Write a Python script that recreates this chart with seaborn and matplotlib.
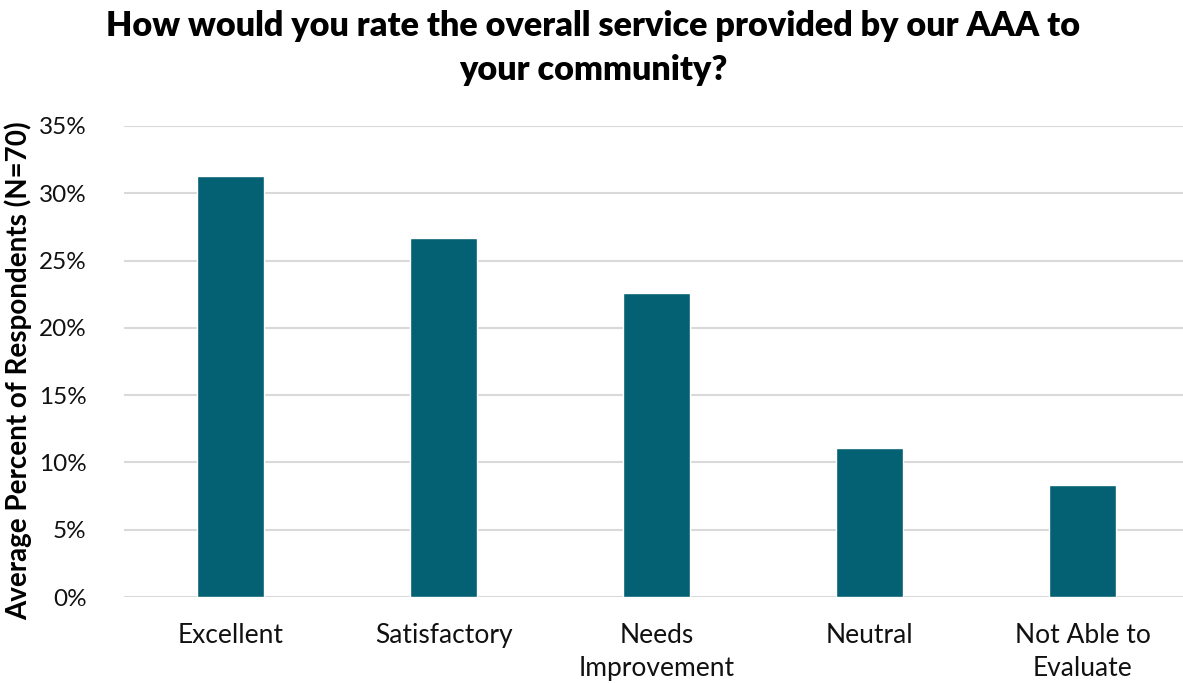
import matplotlib
matplotlib.use("Agg")
import matplotlib.pyplot as plt
import seaborn as sns
import pandas as pd
from matplotlib.ticker import FuncFormatter, MultipleLocator

categories = ["Excellent", "Satisfactory", "Needs\nImprovement", "Neutral", "Not Able to\nEvaluate"]
values = [31.3, 26.7, 22.6, 11.1, 8.3]

sns.set_theme(style="white")
plt.rcParams['font.family'] = ['Lato', 'DejaVu Sans']

df = pd.DataFrame({"cat": categories, "val": values})

fig = plt.figure(figsize=(11.83, 6.83), dpi=100)
ax = fig.add_axes([124/1183, 1 - 597/683, 1065/1183, (597-126)/683])
sns.barplot(data=df, x="cat", y="val", color="#036173", saturation=1, width=0.315, ax=ax)

ax.set_ylim(0, 35)
ax.set_xlim(-0.5, 4.5)
ax.yaxis.set_major_locator(MultipleLocator(5))
ax.yaxis.set_major_formatter(FuncFormatter(lambda v, p: f"{int(round(v))}%"))
ax.grid(axis="y", color="#d9d9d9", linewidth=1.5)
ax.set_axisbelow(True)
for s in ax.spines.values():
    s.set_visible(False)
ax.tick_params(axis="both", length=0, colors="#111111")
ax.tick_params(axis="x", pad=19, labelsize=19)
ax.tick_params(axis="y", pad=27, labelsize=17.5)
for lbl in ax.get_xticklabels():
    lbl.set_linespacing(1.4)
ax.set_xlabel("")
ax.set_ylabel("Average Percent of Respondents (N=70)", fontsize=20, fontweight="bold",
              color="#000000")
ax.yaxis.set_label_coords(-0.086, 0.48)
fig.text(593/1183, 1 - 48/683, "How would you rate the overall service provided by our AAA to\nyour community?",
         ha="center", va="center", fontsize=24.6, fontweight="heavy", linespacing=1.5, color="#000000")

fig.savefig("out.png", dpi=100)
